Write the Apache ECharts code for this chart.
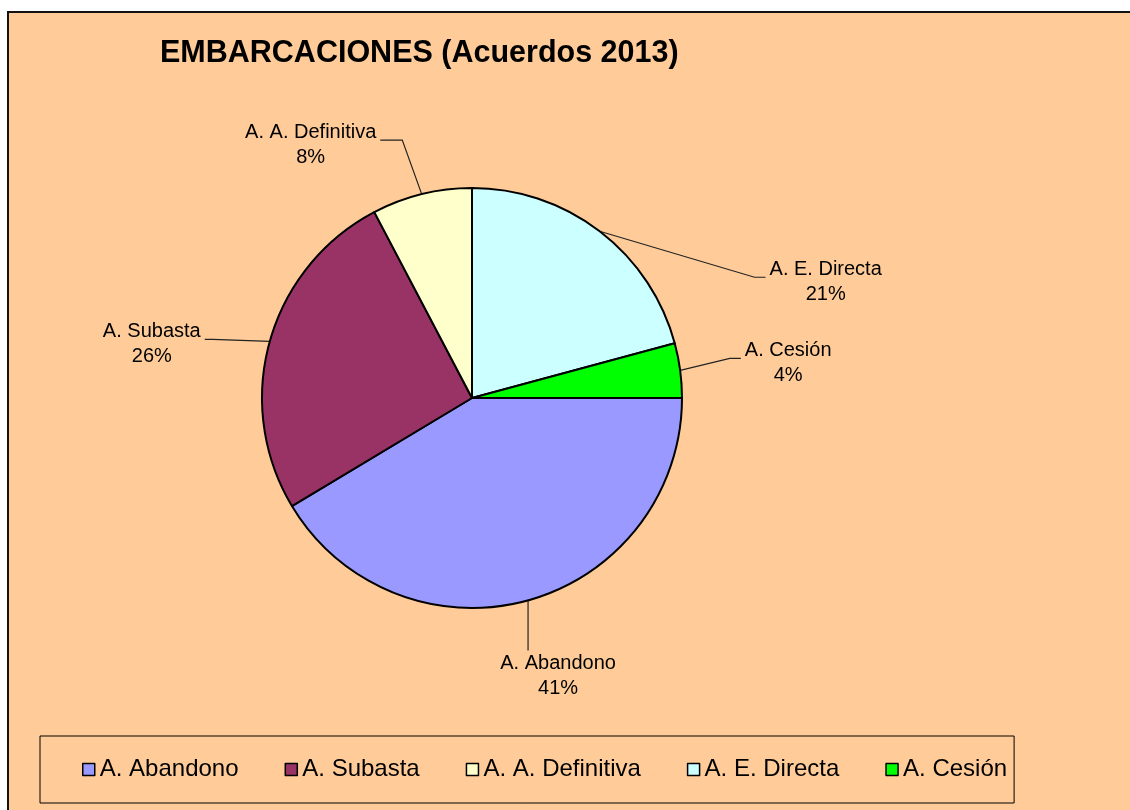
<!DOCTYPE html>
<html>
<head>
<meta charset="utf-8">
<script src="https://cdn.jsdelivr.net/npm/echarts@6/dist/echarts.min.js"></script>
<style>
html,body{margin:0;padding:0;background:#fff;width:1130px;height:810px;overflow:hidden}
#frame{position:absolute;left:7px;top:11px;width:1140px;height:820px;background:#FFCC99;border-left:2px solid #111;border-top:2px solid #111}
#chart{position:absolute;left:0;top:0;width:1130px;height:810px}
</style>
</head>
<body>
<div id="frame"></div>
<div id="chart"></div>
<script>
const categories = ['A. Abandono', 'A. Subasta', 'A. A. Definitiva', 'A. E. Directa', 'A. Cesión'];
const shares = [41.4, 25.9, 7.7, 20.8, 4.2];
const sliceColors = ['#9999FF', '#993366', '#FFFFCC', '#CCFFFF', '#00FF00'];
const titleText = 'EMBARCACIONES (Acuerdos 2013)';

// style: where each label sits relative to its slice anchor, and how its leader attaches
const labelPlacement = [
  { dx: 30, dy: 76, side: 'top' },
  { dx: -118, dy: 3, side: 'right', seg: 8 },
  { dx: -111, dy: -49, side: 'right', seg: 22 },
  { dx: 226, dy: 51, side: 'left', seg: 11 },
  { dx: 108, dy: -7, side: 'left', seg: 11 }
];

const fontFamily = '"Liberation Sans", Arial, sans-serif';
const chart = echarts.init(document.getElementById('chart'), null, { renderer: 'canvas' });

chart.setOption({
  animation: false,
  backgroundColor: 'transparent',
  title: {
    text: titleText,
    left: 160,
    top: 38,
    padding: 0,
    textStyle: { fontSize: 30.5, fontWeight: 'bold', color: '#000', fontFamily: fontFamily }
  },
  legend: {
    data: categories,
    left: 40,
    top: 736,
    orient: 'horizontal',
    icon: 'rect',
    itemWidth: 12,
    itemHeight: 12,
    itemGap: 46,
    padding: [20, 7, 20, 42],
    borderColor: '#000',
    borderWidth: 1,
    itemStyle: { borderColor: '#000', borderWidth: 1.5 },
    textStyle: { fontSize: 24, color: '#000', fontFamily: fontFamily, lineHeight: 27 }
  },
  series: [{
    type: 'pie',
    center: [472, 398],
    radius: 210,
    startAngle: 0,
    clockwise: true,
    percentPrecision: 0,
    avoidLabelOverlap: false,
    emphasis: { disabled: true },
    itemStyle: { borderColor: '#000', borderWidth: 2 },
    data: categories.map(function (n, i) {
      return { name: n, value: shares[i], itemStyle: { color: sliceColors[i] } };
    }),
    label: {
      show: true,
      position: 'outside',
      formatter: '{b}\n{d}%',
      fontSize: 20,
      lineHeight: 25,
      color: '#000',
      fontFamily: fontFamily
    },
    labelLine: { show: true, length: 10, length2: 10, lineStyle: { color: '#222', width: 1.2 } },
    labelLayout: function (p) {
      const pl = labelPlacement[p.dataIndex];
      const a = p.labelLinePoints[0];
      const w = p.labelRect.width, h = p.labelRect.height;
      const cx = a[0] + pl.dx, cy = a[1] + pl.dy;
      let pts;
      if (pl.side === 'top') {
        pts = [a, [a[0], cy - h / 2 - 1]];
      } else if (pl.side === 'left') {
        const ex = cx - w / 2 - 4, ey = cy - 5;
        pts = [a, [ex - pl.seg, ey], [ex, ey]];
      } else {
        const ex = cx + w / 2 + 4, ey = cy - 5;
        pts = [a, [ex + pl.seg, ey], [ex, ey]];
      }
      return { x: cx, y: cy, align: 'center', verticalAlign: 'middle', labelLinePoints: pts };
    }
  }]
});
</script>
</body>
</html>
